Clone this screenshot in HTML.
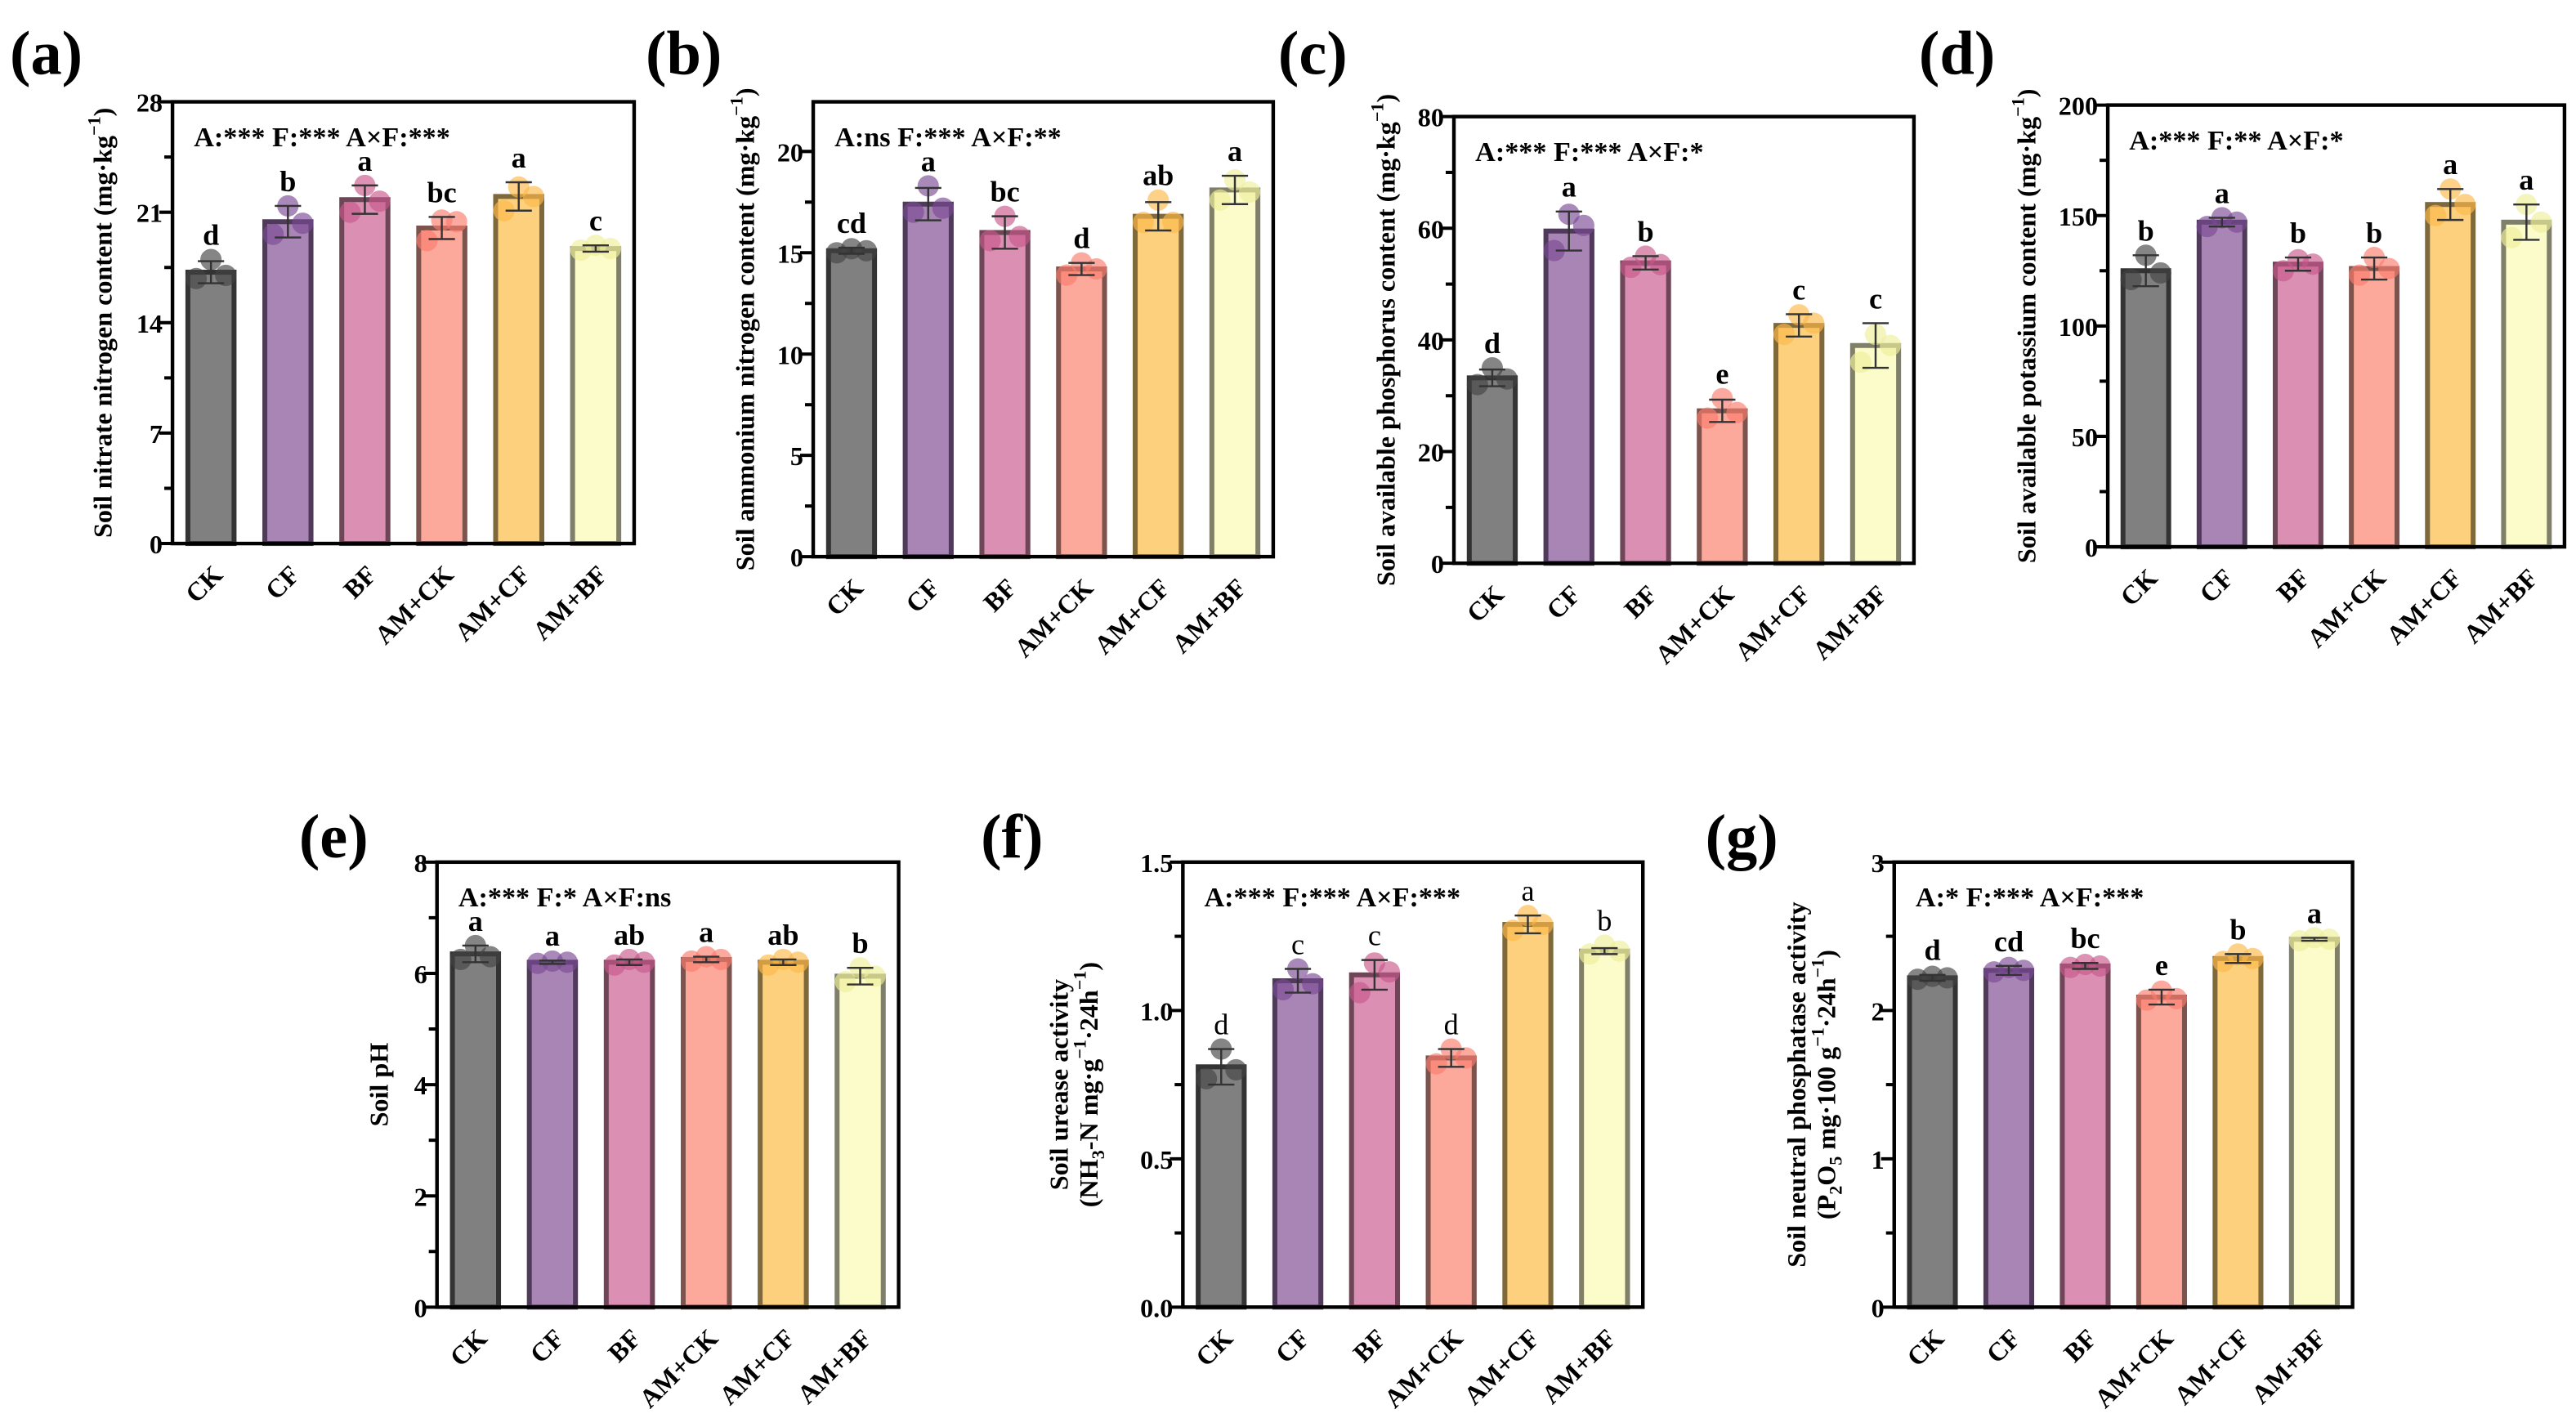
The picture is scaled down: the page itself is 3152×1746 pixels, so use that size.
<!DOCTYPE html>
<html><head><meta charset="utf-8"><style>
html,body{margin:0;padding:0;background:#fff;}
svg{display:block;font-family:"Liberation Serif",serif;}
</style></head><body>
<svg id="fig" width="3152" height="1746" viewBox="0 0 1568 869" preserveAspectRatio="none" xmlns="http://www.w3.org/2000/svg"></svg>
<script>
const categories = ["CK","CF","BF","AM+CK","AM+CF","AM+BF"];
const aMeans = [17.2,20.4,21.8,20.0,22.0,18.7];
const aErr = [0.7,1.0,0.9,0.7,0.9,0.2];
const aPts = [[16.8,18.0,17.0],[19.6,21.4,20.3],[21.0,22.7,21.7],[19.2,20.5,20.4],[21.1,22.6,22.0],[18.6,18.9,18.7]];
const aLetters = ["d","b","a","bc","a","c"];
const aTicks = [0,7,14,21,28];
const bMeans = [15.1,17.4,16.0,14.2,16.8,18.1];
const bErr = [0.15,0.8,0.8,0.3,0.7,0.7];
const bPts = [[15.0,15.2,15.1],[17.0,18.3,17.2],[15.6,16.8,15.8],[13.9,14.5,14.2],[16.5,17.6,16.5],[17.6,18.6,18.0]];
const bLetters = ["cd","a","bc","d","ab","a"];
const bTicks = [0,5,10,15,20];
const cMeans = [33.2,59.5,53.8,27.3,42.6,39.0];
const cErr = [1.5,3.5,1.2,2.0,2.0,4.0];
const cPts = [[32,35,33],[56,62.5,60.5],[53,55,53.5],[26,29.5,27],[41,44.5,43],[36,41,39]];
const cLetters = ["d","a","b","e","c","c"];
const cTicks = [0,20,40,60,80];
const dMeans = [125,147,128,126,155,147];
const dErr = [7,2,3,5,7,8];
const dPts = [[121,132,124],[145,149,147],[125,130,128],[123,131,126],[150,162,155],[140,155,147]];
const dLetters = ["b","a","b","b","a","a"];
const dTicks = [0,50,100,150,200];
const eMeans = [6.35,6.2,6.2,6.25,6.2,5.95];
const eErr = [0.15,0.03,0.05,0.05,0.05,0.15];
const ePts = [[6.25,6.5,6.3],[6.18,6.22,6.2],[6.15,6.25,6.2],[6.22,6.3,6.25],[6.15,6.25,6.2],[5.85,6.1,5.95]];
const eLetters = ["a","a","ab","a","ab","b"];
const eTicks = [0,2,4,6,8];
const fMeans = [0.81,1.10,1.12,0.84,1.29,1.20];
const fErr = [0.06,0.04,0.05,0.03,0.03,0.01];
const fPts = [[0.77,0.87,0.8],[1.07,1.14,1.09],[1.06,1.16,1.13],[0.82,0.87,0.84],[1.27,1.32,1.29],[1.19,1.22,1.2]];
const fLetters = ["d","c","c","d","a","b"];
const fTicks = ["0.0","0.5","1.0","1.5"];
const gMeans = [2.22,2.27,2.30,2.09,2.35,2.48];
const gErr = [0.02,0.03,0.02,0.05,0.03,0.01];
const gPts = [[2.21,2.23,2.22],[2.26,2.29,2.27],[2.29,2.31,2.3],[2.07,2.13,2.08],[2.33,2.38,2.35],[2.47,2.49,2.48]];
const gLetters = ["d","cd","bc","e","b","a"];
const gTicks = [0,1,2,3];

const fills=["#808080","#a985b6","#db8fb3","#fca99c","#fdd07d","#fcfccb"];
const strokes=["#333333","#4f3a5a","#6e4657","#7c534d","#7f6839","#80806a"];
const dots=["#444444","#7a4a93","#c8578b","#fb7d6d","#fdb94a","#eeee99"];
const NS="http://www.w3.org/2000/svg";
const svg=document.getElementById('fig');
function mk(tag,attrs,parent,text){const e=document.createElementNS(NS,tag);for(const k in attrs)e.setAttribute(k,attrs[k]);if(text!==undefined)e.textContent=text;(parent||svg).appendChild(e);return e;}

function panel(o){
  const g=mk('g',{});
  
  
  const ticks=o.ticks.map(Number);
  const ymax=o.ymax;
  const y=v=>o.b-(v/ymax)*(o.b-o.t);
  const step=(o.r-o.l)/6;
  const x=i=>o.l+step*(i+0.5);
  const bw=step*0.6;
  const pl=mk('text',{x:o.lx,y:o.ly,'font-size':38,'font-weight':'bold'},g,'('+o.id+')');
  
  
  o.means.forEach((m,i)=>{
    const r=mk('rect',{x:x(i)-bw/2,y:y(m),width:bw,height:o.b-y(m),fill:fills[i],stroke:strokes[i],'stroke-width':3},g);
    
    
  });
  const offs=[-9,0,9];
  o.pts.forEach((p,i)=>{
    p.forEach((v,k)=>{
      const c=mk('circle',{cx:x(i)+offs[k],cy:y(v),r:6.5,fill:dots[i],'fill-opacity':0.65},g);
      
      
    });
  });
  o.means.forEach((m,i)=>{
    const e=o.err[i],cx=x(i);
    const eg=mk('g',{stroke:'#333','stroke-width':1.2},g);
    
    
    mk('line',{x1:cx,x2:cx,y1:y(m-e),y2:y(m+e)},eg);
    mk('line',{x1:cx-8,x2:cx+8,y1:y(m-e),y2:y(m-e)},eg);
    mk('line',{x1:cx-8,x2:cx+8,y1:y(m+e),y2:y(m+e)},eg);
    const lt=mk('text',{x:cx,y:y(Math.max(...o.pts[i],m+e))-9,'font-size':18,'font-weight':o.letterBold?'bold':'normal','text-anchor':'middle'},g,o.letters[i]);
    
    
  });
  const fr=mk('rect',{x:o.l,y:o.t,width:o.r-o.l,height:o.b-o.t,fill:'none',stroke:'#000','stroke-width':2.2},g);
  
  
  o.ticks.forEach((tl,i)=>{
    const v=Number(tl);
    mk('line',{x1:o.l-8,x2:o.l,y1:y(v),y2:y(v),stroke:'#000','stroke-width':2},g);
    if(i<ticks.length-1){const mv=(v+ticks[i+1])/2;mk('line',{x1:o.l-5,x2:o.l,y1:y(mv),y2:y(mv),stroke:'#000','stroke-width':2},g);}
    const t=mk('text',{x:o.l-6,y:y(v)+6,'font-size':16,'font-weight':'bold','text-anchor':'end'},g,tl);
    
    
  });
  categories.forEach((c,i)=>{
    const tx=x(i)+8,ty=o.b+20;
    const t=mk('text',{x:tx,y:ty,'font-size':16,'font-weight':'bold','text-anchor':'end',transform:`rotate(-45 ${tx} ${ty})`},g,c);
    
    
  });
  const tt=mk('text',{x:o.l+13,y:o.t+27,'font-size':17,'font-weight':'bold'},g,o.title);
  
  
  const cy=(o.t+o.b)/2;
  o.ylab.forEach((ln,k)=>{
    const lx=o.ylx+k*18;
    const t=mk('text',{x:lx,y:cy,'font-size':16,'font-weight':'bold','text-anchor':'middle',transform:`rotate(-90 ${lx} ${cy})`},g);
    t.innerHTML=ln;
    
    
  });
}
const sup='<tspan dy="-7" font-size="11">−1</tspan><tspan dy="7">)</tspan>';
panel({id:'a',l:105,t:62,r:386,b:331,ymax:28,ticks:aTicks,means:aMeans,err:aErr,pts:aPts,letters:aLetters,letterBold:true,title:'A:***  F:*** A×F:***',lx:6,ly:45,ylx:68,ylab:['Soil nitrate nitrogen content (mg·kg'+sup]});
panel({id:'b',l:495,t:62,r:775,b:339,ymax:22.45,ticks:bTicks,means:bMeans,err:bErr,pts:bPts,letters:bLetters,letterBold:true,title:'A:ns  F:*** A×F:**',lx:393,ly:45,ylx:459,ylab:['Soil ammonium nitrogen content (mg·kg'+sup]});
panel({id:'c',l:885,t:71,r:1165,b:343,ymax:80,ticks:cTicks,means:cMeans,err:cErr,pts:cPts,letters:cLetters,letterBold:true,title:'A:***  F:*** A×F:*',lx:778,ly:45,ylx:849,ylab:['Soil available phosphorus content (mg·kg'+sup]});
panel({id:'d',l:1283,t:64,r:1561,b:333,ymax:200,ticks:dTicks,means:dMeans,err:dErr,pts:dPts,letters:dLetters,letterBold:true,title:'A:***  F:** A×F:*',lx:1168,ly:45,ylx:1239,ylab:['Soil available potassium content (mg·kg'+sup]});
panel({id:'e',l:266,t:525,r:547,b:796,ymax:8,ticks:eTicks,means:eMeans,err:eErr,pts:ePts,letters:eLetters,letterBold:true,title:'A:***  F:* A×F:ns',lx:182,ly:522,ylx:236,ylab:['Soil pH']});
panel({id:'f',l:720,t:525,r:1000,b:796,ymax:1.5,ticks:fTicks,means:fMeans,err:fErr,pts:fPts,letters:fLetters,letterBold:false,title:'A:***  F:*** A×F:***',lx:597,ly:522,ylx:650,ylab:['Soil urease activity','(NH<tspan dy="4" font-size="11">3</tspan><tspan dy="-4">-N mg·g</tspan><tspan dy="-7" font-size="11">−1</tspan><tspan dy="7">·24h</tspan><tspan dy="-7" font-size="11">−1</tspan><tspan dy="7">)</tspan>']});
panel({id:'g',l:1153,t:525,r:1432,b:796,ymax:3,ticks:gTicks,means:gMeans,err:gErr,pts:gPts,letters:gLetters,letterBold:true,title:'A:*  F:*** A×F:***',lx:1038,ly:522,ylx:1099,ylab:['Soil neutral phosphatase activity','(P<tspan dy="4" font-size="11">2</tspan><tspan dy="-4">O</tspan><tspan dy="4" font-size="11">5</tspan><tspan dy="-4"> mg·100 g</tspan><tspan dy="-7" font-size="11">−1</tspan><tspan dy="7">·24h</tspan><tspan dy="-7" font-size="11">−1</tspan><tspan dy="7">)</tspan>']});
</script>
</body></html>
